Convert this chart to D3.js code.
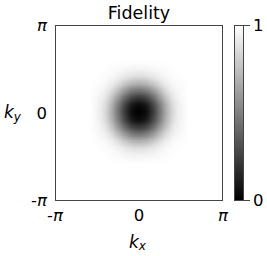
<!DOCTYPE html>
<html>
<head>
<meta charset="utf-8">
<script src="https://cdn.jsdelivr.net/npm/d3@7"></script>
<style>
  body { margin: 0; background: #fff; }
  text { font-family: "DejaVu Sans", sans-serif; fill: #000; }
</style>
</head>
<body>
<div id="chart"></div>
<script>
// Fidelity, on a grid of step pi/12 around k = 0
// (rows: ky from +pi/2 down to -pi/2, columns: kx from -pi/2 to +pi/2). Outside it is 1.
var gridStep = Math.PI / 12;
var gridN = 6;
var fidelity = [
  [1.00, 1.00, 0.99, 0.98, 0.97, 0.96, 0.96, 0.96, 0.97, 0.98, 0.99, 1.00, 1.00],
  [1.00, 0.99, 0.98, 0.95, 0.92, 0.89, 0.88, 0.89, 0.92, 0.95, 0.98, 0.99, 1.00],
  [0.99, 0.98, 0.94, 0.88, 0.79, 0.72, 0.70, 0.72, 0.79, 0.88, 0.94, 0.98, 0.99],
  [0.98, 0.95, 0.88, 0.74, 0.60, 0.49, 0.46, 0.49, 0.60, 0.74, 0.88, 0.95, 0.98],
  [0.97, 0.92, 0.79, 0.60, 0.40, 0.26, 0.21, 0.26, 0.40, 0.60, 0.79, 0.92, 0.97],
  [0.96, 0.89, 0.72, 0.49, 0.26, 0.08, 0.03, 0.08, 0.26, 0.49, 0.72, 0.89, 0.96],
  [0.96, 0.88, 0.70, 0.46, 0.21, 0.03, 0.00, 0.03, 0.21, 0.46, 0.70, 0.88, 0.96],
  [0.96, 0.89, 0.72, 0.49, 0.26, 0.08, 0.03, 0.08, 0.26, 0.49, 0.72, 0.89, 0.96],
  [0.97, 0.92, 0.79, 0.60, 0.40, 0.26, 0.21, 0.26, 0.40, 0.60, 0.79, 0.92, 0.97],
  [0.98, 0.95, 0.88, 0.74, 0.60, 0.49, 0.46, 0.49, 0.60, 0.74, 0.88, 0.95, 0.98],
  [0.99, 0.98, 0.94, 0.88, 0.79, 0.72, 0.70, 0.72, 0.79, 0.88, 0.94, 0.98, 0.99],
  [1.00, 0.99, 0.98, 0.95, 0.92, 0.89, 0.88, 0.89, 0.92, 0.95, 0.98, 0.99, 1.00],
  [1.00, 1.00, 0.99, 0.98, 0.97, 0.96, 0.96, 0.96, 0.97, 0.98, 0.99, 1.00, 1.00]
];

var tickValues = [-Math.PI, 0, Math.PI];
var tickLabels = ["-π", "0", "π"];
var cbarTicks = [0, 1];

var width = 267, height = 256;

// plot box
var x0 = 55, x1 = 223, y0 = 25, y1 = 200;

var svg = d3.select("#chart").append("svg")
  .attr("width", width)
  .attr("height", height);

var xScale = d3.scaleLinear().domain([-Math.PI, Math.PI]).range([x0, x1]);
var yScale = d3.scaleLinear().domain([-Math.PI, Math.PI]).range([y1, y0]);
var grey = d3.scaleLinear().domain([0, 1]).range(["#000", "#fff"]);

var defs = svg.append("defs");
defs.append("clipPath").attr("id", "plotClip")
  .append("rect").attr("x", x0).attr("y", y0).attr("width", x1 - x0).attr("height", y1 - y0);
defs.append("filter").attr("id", "smooth")
  .attr("x", "-50%").attr("y", "-50%").attr("width", "200%").attr("height", "200%")
  .attr("color-interpolation-filters", "sRGB")
  .append("feGaussianBlur").attr("stdDeviation", 2.8);

// background value 1
svg.append("rect")
  .attr("x", x0).attr("y", y0)
  .attr("width", x1 - x0).attr("height", y1 - y0)
  .attr("fill", grey(1));

// flatten grid into cells
var cells = [];
fidelity.forEach(function(row, r) {
  row.forEach(function(v, c) {
    cells.push({ kx: (c - gridN) * gridStep, ky: (gridN - r) * gridStep, v: v });
  });
});

var cellW = xScale(gridStep) - xScale(0);
var cellH = yScale(0) - yScale(gridStep);

svg.append("g")
  .attr("clip-path", "url(#plotClip)")
  .append("g")
  .attr("filter", "url(#smooth)")
  .selectAll("rect")
  .data(cells)
  .enter()
  .append("rect")
  .attr("x", function(d) { return xScale(d.kx) - cellW / 2; })
  .attr("y", function(d) { return yScale(d.ky) - cellH / 2; })
  .attr("width", cellW + 0.5)
  .attr("height", cellH + 0.5)
  .attr("fill", function(d) { return grey(d.v); });

// frame
svg.append("rect")
  .attr("x", x0 + 0.5).attr("y", y0 + 0.5)
  .attr("width", x1 - x0 - 1).attr("height", y1 - y0)
  .attr("fill", "none")
  .attr("stroke", "#444")
  .attr("stroke-width", 1);

// tick labels
function piLabel(sel) {
  sel.each(function(d, i) {
    var t = d3.select(this);
    var s = tickLabels[i];
    if (s === "0") {
      t.text("0");
    } else {
      if (s[0] === "-") t.append("tspan").text("-");
      t.append("tspan").attr("font-style", "italic").text("π");
    }
  });
}

svg.append("g").selectAll("text")
  .data(tickValues)
  .enter()
  .append("text")
  .attr("x", function(d) { return xScale(d); })
  .attr("y", 221)
  .attr("text-anchor", "middle")
  .attr("font-size", 16.5)
  .call(piLabel);

svg.append("g").selectAll("text")
  .data(tickValues)
  .enter()
  .append("text")
  .attr("x", 47)
  .attr("y", function(d) { return yScale(d) + 6; })
  .attr("text-anchor", "end")
  .attr("font-size", 16.5)
  .call(piLabel);

// title
svg.append("text")
  .attr("x", 139).attr("y", 18.5)
  .attr("text-anchor", "middle")
  .attr("font-size", 17.5)
  .text("Fidelity");

// axis labels
var kx = svg.append("text")
  .attr("x", 129).attr("y", 248)
  .attr("font-size", 17);
kx.append("tspan").attr("font-style", "italic").text("k");
kx.append("tspan").attr("font-style", "italic").attr("font-size", 12).attr("dy", 2).text("x");

var ky = svg.append("text")
  .attr("x", 4).attr("y", 118)
  .attr("font-size", 17);
ky.append("tspan").attr("font-style", "italic").text("k");
ky.append("tspan").attr("font-style", "italic").attr("font-size", 12).attr("dy", 3).text("y");

// colorbar
var cx0 = 234, cx1 = 243;
var cScale = d3.scaleLinear().domain([0, 1]).range([y1, y0]);

var grad = defs.append("linearGradient").attr("id", "cbarGrad")
  .attr("x1", 0).attr("y1", 1).attr("x2", 0).attr("y2", 0);
cbarTicks.forEach(function(v) {
  grad.append("stop").attr("offset", v).attr("stop-color", grey(v));
});

svg.append("rect")
  .attr("x", cx0 + 0.5).attr("y", cScale(1) + 0.5)
  .attr("width", cx1 - cx0).attr("height", cScale(0) - cScale(1))
  .attr("fill", "url(#cbarGrad)")
  .attr("stroke", "#444")
  .attr("stroke-width", 1);

var cAxis = d3.axisRight(cScale).tickValues(cbarTicks).tickSize(6).tickPadding(3)
  .tickFormat(d3.format("d"));
var cg = svg.append("g")
  .attr("transform", "translate(" + (cx1 + 1) + ",0)")
  .call(cAxis);
cg.select(".domain").remove();
cg.selectAll("line").attr("stroke", "#444");
cg.selectAll("text")
  .attr("font-size", 16.5)
  .attr("font-family", "DejaVu Sans, sans-serif")
  .attr("fill", "#000");
</script>
</body>
</html>
